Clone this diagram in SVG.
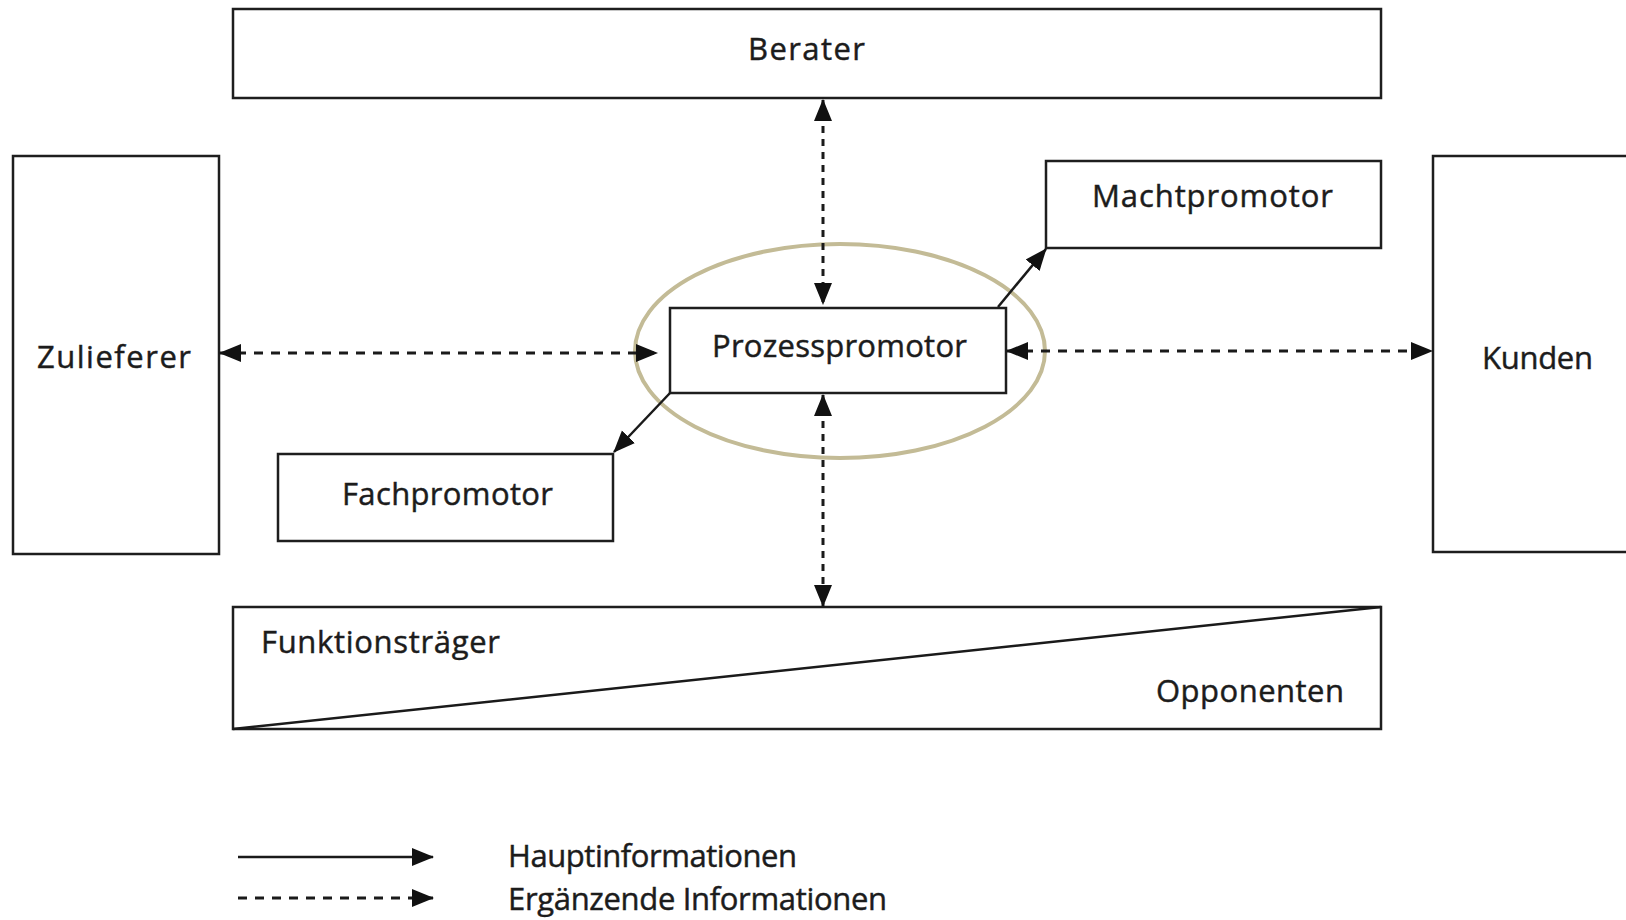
<svg xmlns="http://www.w3.org/2000/svg" width="1626" height="920" viewBox="0 0 1626 920">
  <style>
    .box { fill: #ffffff; stroke: #1e1e1e; stroke-width: 2.5; }
    .lbl { font-family: "Open Sans", "Noto Sans", "Liberation Sans", sans-serif; font-size: 31px; fill: #1c1c1c; stroke: #1c1c1c; stroke-width: 0.45; }
    .solid { fill: none; stroke: #1a1a1a; stroke-width: 2.5; }
    .dash-h { fill: none; stroke: #1a1a1a; stroke-width: 3; stroke-dasharray: 9 8; }
    .dash-v { fill: none; stroke: #1a1a1a; stroke-width: 3; stroke-dasharray: 7 6; }
    .focus { fill: none; stroke: #c3bb96; stroke-width: 4; }
  </style>
  <defs>
    <marker id="ah" viewBox="0 0 22 20" markerWidth="22" markerHeight="20" refX="21" refY="10"
            orient="auto-start-reverse" markerUnits="userSpaceOnUse">
      <path d="M0,1 L22,10 L0,19 Z" fill="#111111"/>
    </marker>
  </defs>

  <rect width="1626" height="920" fill="#ffffff"/>

  <!-- actors -->
  <g id="berater">
    <rect class="box" x="233" y="9" width="1148" height="89"/>
    <text class="lbl" x="748" y="60" textLength="117">Berater</text>
  </g>
  <g id="zulieferer">
    <rect class="box" x="13" y="156" width="206" height="398"/>
    <text class="lbl" x="37" y="368" textLength="154">Zulieferer</text>
  </g>
  <g id="kunden">
    <rect class="box" x="1433" y="156" width="220" height="396"/>
    <text class="lbl" x="1482" y="369" textLength="111">Kunden</text>
  </g>
  <g id="machtpromotor">
    <rect class="box" x="1046" y="161" width="335" height="87"/>
    <text class="lbl" x="1092" y="207" textLength="241">Machtpromotor</text>
  </g>
  <g id="fachpromotor">
    <rect class="box" x="278" y="454" width="335" height="87"/>
    <text class="lbl" x="342" y="505" textLength="211">Fachpromotor</text>
  </g>
  <g id="funktionstraeger">
    <rect class="box" x="233" y="607" width="1148" height="122"/>
    <line class="solid" x1="233" y1="729" x2="1381" y2="607"/>
    <text class="lbl" x="261" y="653" textLength="239">Funktionsträger</text>
    <text class="lbl" x="1156" y="702" textLength="188">Opponenten</text>
  </g>

  <!-- central promoter with highlight ring -->
  <g id="prozesspromotor">
    <rect class="box" x="670" y="308" width="336" height="85"/>
    <text class="lbl" x="712" y="357" textLength="255">Prozesspromotor</text>
    <ellipse class="focus" cx="840" cy="351" rx="205" ry="107"/>
  </g>

  <!-- information flows -->
  <g id="connectors">
    <line class="dash-v" x1="823" y1="100" x2="823" y2="304" marker-start="url(#ah)" marker-end="url(#ah)"/>
    <line class="dash-v" x1="823" y1="395" x2="823" y2="606" marker-start="url(#ah)" marker-end="url(#ah)"/>
    <line class="dash-h" x1="220" y1="353" x2="657" y2="353" marker-start="url(#ah)" marker-end="url(#ah)"/>
    <line class="dash-h" x1="1007" y1="351" x2="1432" y2="351" marker-start="url(#ah)" marker-end="url(#ah)"/>
    <line class="solid" x1="998" y1="307" x2="1046" y2="249" marker-end="url(#ah)"/>
    <line class="solid" x1="670" y1="393" x2="614" y2="452" marker-end="url(#ah)"/>
  </g>

  <!-- legend -->
  <g id="legend">
    <line class="solid" x1="238" y1="857" x2="433" y2="857" marker-end="url(#ah)"/>
    <line class="dash-h" x1="238" y1="898" x2="433" y2="898" marker-end="url(#ah)"/>
    <text class="lbl" x="508" y="867" textLength="289">Hauptinformationen</text>
    <text class="lbl" x="508" y="910" textLength="379">Ergänzende Informationen</text>
  </g>
</svg>
